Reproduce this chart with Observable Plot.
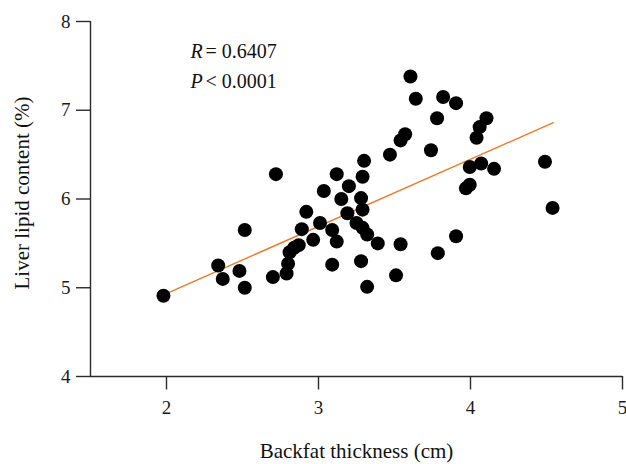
<!DOCTYPE html>
<html>
<head>
<meta charset="utf-8">
<script src="https://cdn.jsdelivr.net/npm/d3@7"></script>
<script src="https://cdn.jsdelivr.net/npm/@observablehq/plot@0.6"></script>
<style>
  html, body { margin: 0; padding: 0; background: #fff; }
  #chart svg { display: block; }
</style>
</head>
<body>
<div id="chart"></div>
<script>
// Backfat thickness (cm)
const backfat = [1.98, 2.34, 2.37, 2.48, 2.515, 2.515, 2.70, 2.72, 2.79, 2.80, 2.81, 2.84, 2.87, 2.89, 2.92, 2.965, 3.01, 3.035, 3.09, 3.09, 3.12, 3.12, 3.15, 3.19, 3.20, 3.25, 3.28, 3.28, 3.29, 3.29, 3.29, 3.30, 3.32, 3.32, 3.39, 3.47, 3.51, 3.54, 3.54, 3.57, 3.605, 3.64, 3.74, 3.78, 3.785, 3.82, 3.905, 3.905, 3.97, 3.995, 3.995, 4.04, 4.06, 4.07, 4.105, 4.155, 4.49, 4.54];
// Liver lipid content (%)
const liverLipid = [4.91, 5.25, 5.10, 5.19, 5.00, 5.65, 5.12, 6.28, 5.16, 5.27, 5.40, 5.45, 5.48, 5.66, 5.855, 5.54, 5.73, 6.09, 5.65, 5.26, 6.28, 5.52, 6.00, 5.84, 6.145, 5.73, 6.01, 5.30, 6.25, 5.675, 5.88, 6.43, 5.60, 5.01, 5.50, 6.50, 5.14, 5.49, 6.66, 6.73, 7.38, 7.13, 6.55, 6.91, 5.39, 7.15, 7.08, 5.58, 6.12, 6.16, 6.36, 6.69, 6.81, 6.40, 6.91, 6.34, 6.42, 5.90];
// Fitted line end points
const fitX = [1.98, 4.545];
const fitY = [4.92, 6.86];
// Tick values
const xTicks = [2, 3, 4, 5];
const yTicks = [4, 5, 6, 7, 8];
const xDomain = [1.5, 5];
const yDomain = [4, 8];
const xTitle = "Backfat thickness (cm)";
const yTitle = "Liver lipid content (%)";
const statLabels = ["R", "P"];
const statValues = ["= 0.6407", "< 0.0001"];

const points = backfat.map((x, i) => ({x, y: liverLipid[i]}));
const fit = fitX.map((x, i) => ({x, y: fitY[i]}));

const axisColor = "#2b2b2b";
const font = "'Liberation Serif', 'DejaVu Serif', serif";

const chart = Plot.plot({
  width: 626,
  height: 464,
  marginLeft: 90,
  marginRight: 4,
  marginTop: 21,
  marginBottom: 88,
  style: {fontFamily: font, fontSize: "19px", color: "#1a1a1a", background: "#fff"},
  x: {domain: xDomain, ticks: xTicks, tickSize: 13.5, tickPadding: 10, label: null, tickFormat: d3.format("d")},
  y: {domain: yDomain, ticks: yTicks, tickSize: 14, tickPadding: 6, label: null, tickFormat: d3.format("d")},
  marks: [
    Plot.ruleX([xDomain[0]], {stroke: axisColor, strokeWidth: 1.4}),
    Plot.ruleY([yDomain[0]], {stroke: axisColor, strokeWidth: 1.4}),
    Plot.line(fit, {x: "x", y: "y", stroke: "#f07a2a", strokeWidth: 1.4}),
    Plot.dot(points, {x: "x", y: "y", r: 7, fill: "#000", stroke: "none"}),
    Plot.text([statLabels[0]], {frameAnchor: "top-left", dx: 100, dy: 30, text: d => d, fontStyle: "italic", fontSize: 20, textAnchor: "start", lineAnchor: "middle", fill: "#111"}),
    Plot.text([statValues[0]], {frameAnchor: "top-left", dx: 115, dy: 30, text: d => d, fontSize: 20, textAnchor: "start", lineAnchor: "middle", fill: "#111"}),
    Plot.text([statLabels[1]], {frameAnchor: "top-left", dx: 100, dy: 60, text: d => d, fontStyle: "italic", fontSize: 20, textAnchor: "start", lineAnchor: "middle", fill: "#111"}),
    Plot.text([statValues[1]], {frameAnchor: "top-left", dx: 115, dy: 60, text: d => d, fontSize: 20, textAnchor: "start", lineAnchor: "middle", fill: "#111"}),
    Plot.text([xTitle], {frameAnchor: "bottom", dy: 75, text: d => d, fontSize: 21, textAnchor: "middle", lineAnchor: "middle", fill: "#111"}),
    Plot.text([yTitle], {frameAnchor: "left", dx: -68.5, dy: -6, rotate: -90, text: d => d, fontSize: 21, textAnchor: "middle", lineAnchor: "middle", fill: "#111"})
  ]
});

// style ticks
d3.select(chart).selectAll("[aria-label='x-axis tick'], [aria-label='y-axis tick']").attr("stroke", axisColor).attr("stroke-width", 1.4);
document.getElementById("chart").appendChild(chart);
</script>
</body>
</html>
